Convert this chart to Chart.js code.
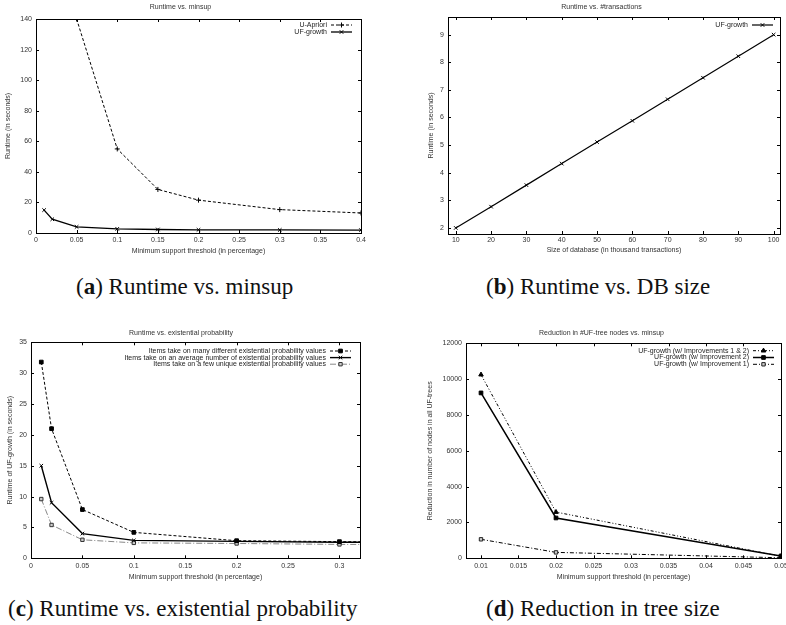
<!DOCTYPE html>
<html><head><meta charset="utf-8">
<script src="https://cdn.jsdelivr.net/npm/chart.js@4/dist/chart.umd.min.js"></script>
<style>
body{margin:0;background:#fff;width:786px;height:625px;position:relative;overflow:hidden}
.pane{position:absolute}
.cap{position:absolute;font-family:"Liberation Serif","Times New Roman",serif;font-size:23px;color:#111;white-space:nowrap;line-height:1}
</style></head><body>
<div class="pane" style="left:0;top:0"><canvas id="ca" width="393" height="258"></canvas></div>
<div class="pane" style="left:393px;top:0"><canvas id="cb" width="393" height="258"></canvas></div>
<div class="pane" style="left:0;top:322px"><canvas id="cc" width="393" height="260"></canvas></div>
<div class="pane" style="left:393px;top:322px"><canvas id="cd" width="393" height="260"></canvas></div>
<div class="cap" style="left:76px;top:275px">(<b>a</b>) Runtime vs. minsup</div>
<div class="cap" style="left:486px;top:275px">(<b>b</b>) Runtime vs. DB size</div>
<div class="cap" style="left:8px;top:597px">(<b>c</b>) Runtime vs. existential probability</div>
<div class="cap" style="left:486px;top:597px">(<b>d</b>) Reduction in tree size</div>
<script>
// ---- data ----
const aX_apriori = [0.05, 0.1, 0.15, 0.2, 0.3, 0.4];
const aY_apriori = [140, 55, 28.5, 21.5, 15.3, 13.1];
const aX_uf = [0.01, 0.02, 0.05, 0.1, 0.15, 0.2, 0.3, 0.4];
const aY_uf = [15, 9, 4, 2.7, 2.3, 2.1, 2.0, 1.9];
const aXTicks = [0, 0.05, 0.1, 0.15, 0.2, 0.25, 0.3, 0.35, 0.4];
const aYTicks = [0, 20, 40, 60, 80, 100, 120, 140];

const bX = [10, 20, 30, 40, 50, 60, 70, 80, 90, 100];
const bY = [2.0, 2.77, 3.55, 4.33, 5.11, 5.88, 6.66, 7.44, 8.22, 9.0];
const bXTicks = [10, 20, 30, 40, 50, 60, 70, 80, 90, 100];
const bYTicks = [2, 3, 4, 5, 6, 7, 8, 9];

const cX = [0.01, 0.02, 0.05, 0.1, 0.2, 0.3, 0.4];
const cY_many = [31.8, 21.0, 7.9, 4.2, 2.85, 2.7, 2.6];
const cY_avg = [15.0, 9.0, 4.0, 2.9, 2.75, 2.6, 2.55];
const cY_few = [9.6, 5.4, 3.0, 2.5, 2.4, 2.25, 2.2];
const cXTicks = [0, 0.05, 0.1, 0.15, 0.2, 0.25, 0.3];
const cYTicks = [0, 5, 10, 15, 20, 25, 30, 35];

const dX = [0.01, 0.02, 0.05];
const dY_12 = [10250, 2580, 110];
const dY_2 = [9230, 2250, 130];
const dY_1 = [1060, 330, 30];
const dXTicks = [0.01, 0.015, 0.02, 0.025, 0.03, 0.035, 0.04, 0.045, 0.05];
const dYTicks = [0, 2000, 4000, 6000, 8000, 10000, 12000];

// ---- helpers ----
const FONT = 'Liberation Sans, Arial, sans-serif';
const TXT = '#333';
const pts = (xs, ys) => xs.map((x, i) => ({x: x, y: ys[i]}));
const fmt = v => String(+(+v).toFixed(4));

const gpPlugin = {
  id: 'gp',
  afterDraw(chart, args, opts) {
    const ctx = chart.ctx, a = chart.chartArea;
    const xs = chart.scales.x, ys = chart.scales.y;
    ctx.save();
    ctx.strokeStyle = '#000';
    ctx.lineWidth = 1;
    ctx.setLineDash([]);
    ctx.strokeRect(Math.round(a.left) + 0.5, Math.round(a.top) + 0.5, Math.round(a.right - a.left), Math.round(a.bottom - a.top));
    const L = 3;
    ctx.beginPath();
    xs.ticks.forEach(t => {
      const px = Math.round(xs.getPixelForValue(t.value)) + 0.5;
      ctx.moveTo(px, a.bottom); ctx.lineTo(px, a.bottom - L);
      ctx.moveTo(px, a.top); ctx.lineTo(px, a.top + L);
    });
    ys.ticks.forEach(t => {
      const py = Math.round(ys.getPixelForValue(t.value)) + 0.5;
      ctx.moveTo(a.left, py); ctx.lineTo(a.left + L, py);
      ctx.moveTo(a.right, py); ctx.lineTo(a.right - L, py);
    });
    ctx.stroke();
    // legend (gnuplot style: text then sample)
    const textEnd = a.right - opts.legendRight;
    let y = a.top + opts.legendTop;
    ctx.font = '7px ' + FONT;
    ctx.textAlign = 'right';
    ctx.textBaseline = 'middle';
    chart.data.datasets.forEach(ds => {
      ctx.fillStyle = '#222';
      ctx.fillText(ds.label, textEnd, y);
      const x1 = textEnd + 4, x2 = textEnd + 25;
      ctx.strokeStyle = ds.borderColor;
      ctx.lineWidth = ds.borderWidth;
      ctx.setLineDash(ds.borderDash || []);
      ctx.beginPath(); ctx.moveTo(x1, y); ctx.lineTo(x2, y); ctx.stroke();
      ctx.setLineDash([]);
      ctx.strokeStyle = ds.pointBorderColor;
      ctx.fillStyle = ds.pointBackgroundColor;
      ctx.lineWidth = ds.pointBorderWidth;
      Chart.helpers.drawPoint(ctx, {pointStyle: ds.pointStyle, radius: ds.pointRadius, rotation: 0, borderWidth: ds.pointBorderWidth}, (x1 + x2) / 2, y);
      y += opts.legendStep;
    });
    ctx.restore();
  }
};
Chart.register(gpPlugin);

function makeChart(id, p) {
  return new Chart(document.getElementById(id), {
    type: 'line',
    data: {datasets: p.datasets},
    options: {
      responsive: false,
      animation: false,
      layout: {padding: {left: p.padL, right: p.padR, top: 0, bottom: 0}},
      plugins: {
        legend: {display: false},
        tooltip: {enabled: false},
        title: {display: true, text: p.title, color: TXT, font: {family: FONT, size: 7, weight: 'normal'}, padding: {top: p.tTop, bottom: p.tBot}},
        gp: {legendRight: p.legRight || 34, legendTop: p.legTop, legendStep: p.legStep}
      },
      scales: {
        x: {
          type: 'linear', min: p.xMin, max: p.xMax,
          grid: {display: false, drawTicks: false}, border: {display: false},
          afterBuildTicks: s => { s.ticks = p.xTicks.map(v => ({value: v})); },
          afterFit: s => { s.height = p.xH; s.paddingLeft = 0; s.paddingRight = 0; },
          ticks: {autoSkip: false, maxRotation: 0, padding: p.xPad, color: TXT, font: {family: FONT, size: 7}, callback: v => fmt(v)},
          title: {display: true, text: p.xTitle, color: TXT, font: {family: FONT, size: 7}, padding: {top: 0, bottom: p.xtBot}}
        },
        y: {
          type: 'linear', min: p.yMin, max: p.yMax,
          grid: {display: false, drawTicks: false}, border: {display: false},
          afterBuildTicks: s => { s.ticks = p.yTicks.map(v => ({value: v})); },
          afterFit: s => { s.width = p.yW; s.paddingTop = 0; s.paddingBottom = 0; },
          ticks: {autoSkip: false, padding: 4, color: TXT, font: {family: FONT, size: 7}, callback: v => fmt(v)},
          title: {display: true, text: p.yTitle, color: TXT, font: {family: FONT, size: 7}, padding: {top: 4, bottom: 0}}
        }
      }
    }
  });
}

function ds(label, data, o) {
  return Object.assign({
    label: label, data: data, borderColor: '#000', borderWidth: 1, borderDash: [],
    pointStyle: 'crossRot', pointRadius: 2.5, pointBorderWidth: 1,
    pointBorderColor: '#000', pointBackgroundColor: '#000', tension: 0, fill: false
  }, o);
}

makeChart('ca', {
  title: 'Runtime vs. minsup', tTop: 2.8, tBot: 7.8,
  padL: 0, padR: 32, yW: 36, xH: 25, xPad: 2.5, xtBot: 3.1,
  xMin: 0, xMax: 0.4, yMin: 0, yMax: 140, xTicks: aXTicks, yTicks: aYTicks,
  xTitle: 'Minimum support threshold (in percentage)', yTitle: 'Runtime (in seconds)',
  legTop: 6, legStep: 7,
  datasets: [
    ds('U-Apriori', pts(aX_apriori, aY_apriori), {borderDash: [3, 2], pointStyle: 'cross'}),
    ds('UF-growth', pts(aX_uf, aY_uf), {borderWidth: 1.3})
  ]
});

makeChart('cb', {
  title: 'Runtime vs. #transactions', tTop: 3.1, tBot: 5.5,
  padL: 30, padR: 6, yW: 25, xH: 24, xPad: 2, xtBot: 3.8,
  xMin: 7.8, xMax: 101.8, yMin: 1.78, yMax: 9.64, xTicks: bXTicks, yTicks: bYTicks,
  xTitle: 'Size of database (in thousand transactions)', yTitle: 'Runtime (in seconds)',
  legTop: 8, legStep: 7, legRight: 32,
  datasets: [
    ds('UF-growth', pts(bX, bY), {borderWidth: 1.2})
  ]
});

makeChart('cc', {
  title: 'Runtime vs. existential probability', tTop: 6.5, tBot: 5.4,
  padL: 2, padR: 33, yW: 29, xH: 23.7, xPad: 4, xtBot: 1.1,
  xMin: 0, xMax: 0.32, yMin: 0, yMax: 35, xTicks: cXTicks, yTicks: cYTicks,
  xTitle: 'Minimum support threshold (in percentage)', yTitle: 'Runtime of UF-growth (in seconds)',
  legTop: 8.7, legStep: 6.6,
  datasets: [
    ds('Items take on many different existential probability values', pts(cX, cY_many), {borderDash: [3, 2], pointStyle: 'rect', pointRadius: 2.6}),
    ds('Items take on an average number of existential probability values', pts(cX, cY_avg), {borderWidth: 1.4}),
    ds('Items take on a few unique existential probability values', pts(cX, cY_few), {borderColor: '#888', borderDash: [6, 2, 1, 2], pointStyle: 'rect', pointRadius: 2.4, pointBackgroundColor: '#ccc', pointBorderColor: '#333'})
  ]
});

makeChart('cd', {
  title: 'Reduction in #UF-tree nodes vs. minsup', tTop: 7.1, tBot: 5.8,
  padL: 29, padR: 5, yW: 44, xH: 23.7, xPad: 4, xtBot: 1.1,
  xMin: 0.008, xMax: 0.05, yMin: 0, yMax: 12000, xTicks: dXTicks, yTicks: dYTicks,
  xTitle: 'Minimum support threshold (in percentage)', yTitle: 'Reduction in number of nodes in all UF-trees',
  legTop: 7.4, legStep: 6.8, legRight: 32,
  datasets: [
    ds('UF-growth (w/ Improvements 1 & 2)', pts(dX, dY_12), {borderDash: [3, 2, 1, 2, 1, 2], pointStyle: 'triangle', pointRadius: 2.6}),
    ds('UF-growth (w/ Improvement 2)', pts(dX, dY_2), {borderWidth: 1.5, pointStyle: 'rect', pointRadius: 2.6}),
    ds('UF-growth (w/ Improvement 1)', pts(dX, dY_1), {borderDash: [4, 2, 1, 2], pointStyle: 'rect', pointRadius: 2.4, pointBackgroundColor: '#ccc', pointBorderColor: '#222'})
  ]
});
</script>
</body></html>
